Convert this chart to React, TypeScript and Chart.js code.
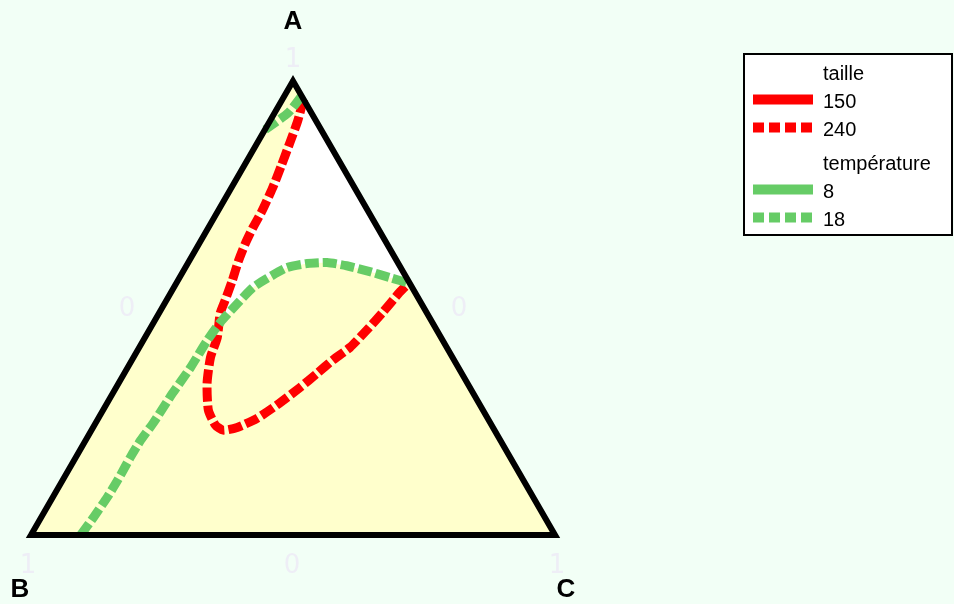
import { useEffect, useRef } from 'react';
import { Chart, registerables } from 'chart.js';

Chart.register(...registerables);

// Compositions are [A, B, C] fractions that sum to 1.
type Comp = [number, number, number];

const VERTEX_NAMES = ['A', 'B', 'C'];
const AXIS_TICKS = ['0', '1'];

const TAILLE_TITLE = 'taille';
const TAILLE_LEVELS = ['150', '240'];
const TEMP_TITLE = 'température';
const TEMP_LEVELS = ['8', '18'];

// taille = 240 contour: from the A–C edge near A, down and around the loop, back to the A–C edge
const TAILLE_240: Comp[] = [
  [0.960, 0.000, 0.040],
  [0.912, 0.035, 0.053],
  [0.864, 0.074, 0.062],
  [0.813, 0.116, 0.071],
  [0.763, 0.158, 0.079],
  [0.714, 0.202, 0.084],
  [0.677, 0.238, 0.085],
  [0.642, 0.270, 0.088],
  [0.604, 0.302, 0.094],
  [0.560, 0.336, 0.104],
  [0.517, 0.371, 0.112],
  [0.488, 0.395, 0.117],
  [0.435, 0.427, 0.138],
  [0.391, 0.462, 0.147],
  [0.334, 0.497, 0.169],
  [0.275, 0.524, 0.201],
  [0.242, 0.527, 0.231],
  [0.231, 0.518, 0.251],
  [0.237, 0.488, 0.275],
  [0.257, 0.440, 0.303],
  [0.286, 0.388, 0.326],
  [0.325, 0.324, 0.351],
  [0.356, 0.276, 0.368],
  [0.385, 0.232, 0.383],
  [0.413, 0.185, 0.402],
  [0.451, 0.134, 0.415],
  [0.490, 0.084, 0.426],
  [0.534, 0.030, 0.436],
  [0.556, 0.000, 0.444],
];

// température = 18 contour: from the B–C edge up to the A–C edge
const TEMP_18_MAIN: Comp[] = [
  [0.000, 0.905, 0.095],
  [0.040, 0.860, 0.100],
  [0.084, 0.812, 0.104],
  [0.121, 0.774, 0.105],
  [0.171, 0.725, 0.104],
  [0.209, 0.686, 0.105],
  [0.248, 0.642, 0.110],
  [0.312, 0.574, 0.114],
  [0.369, 0.511, 0.120],
  [0.429, 0.449, 0.122],
  [0.468, 0.405, 0.127],
  [0.510, 0.351, 0.139],
  [0.545, 0.304, 0.151],
  [0.565, 0.267, 0.168],
  [0.589, 0.217, 0.194],
  [0.598, 0.174, 0.228],
  [0.600, 0.135, 0.265],
  [0.593, 0.101, 0.306],
  [0.582, 0.068, 0.350],
  [0.567, 0.032, 0.401],
  [0.554, 0.000, 0.446],
];

// température = 18 contour: short branch close to vertex A
const TEMP_18_APEX: Comp[] = [
  [0.967, 0.000, 0.033],
  [0.930, 0.044, 0.026],
  [0.892, 0.108, 0.000],
];

const PAGE_BG = '#F2FFF6';
const FIELD_FILL = '#FFFFCC';
const POCKET_FILL = '#FFFFFF';
const RED = '#FF0000';
const GREEN = '#66CC66';
const TICK_COLOR = '#EEEEF6';

const H = Math.sqrt(3) / 2;
const toXY = ([a, , c]: Comp) => ({ x: c + a / 2, y: a * H });

const VERTICES: Comp[] = [
  [1, 0, 0],
  [0, 1, 0],
  [0, 0, 1],
];

// The pocket above the 18 contour and right of the 240 contour stays white.
const POCKET: Comp[] = [...TAILLE_240.slice(0, 12), ...TEMP_18_MAIN.slice(10)];

function toPx(chart: Chart, p: { x: number; y: number }) {
  return {
    x: chart.scales.x.getPixelForValue(p.x),
    y: chart.scales.y.getPixelForValue(p.y),
  };
}

function fillPolygon(chart: Chart, comps: Comp[], color: string) {
  const ctx = chart.ctx;
  ctx.beginPath();
  comps.forEach((c, i) => {
    const p = toPx(chart, toXY(c));
    if (i === 0) ctx.moveTo(p.x, p.y);
    else ctx.lineTo(p.x, p.y);
  });
  ctx.closePath();
  ctx.fillStyle = color;
  ctx.fill();
}

function drawLegend(ctx: CanvasRenderingContext2D) {
  ctx.save();
  ctx.fillStyle = '#FFFFFF';
  ctx.fillRect(744, 54, 208, 181);
  ctx.strokeStyle = '#000000';
  ctx.lineWidth = 2;
  ctx.strokeRect(744, 54, 208, 181);

  const groups = [
    { title: TAILLE_TITLE, levels: TAILLE_LEVELS, color: RED, base: 80 },
    { title: TEMP_TITLE, levels: TEMP_LEVELS, color: GREEN, base: 170 },
  ];
  ctx.font = '20px "Liberation Sans", Arial, sans-serif';
  ctx.textAlign = 'left';
  ctx.textBaseline = 'alphabetic';
  groups.forEach((g) => {
    ctx.fillStyle = '#000000';
    ctx.fillText(g.title, 823, g.base);
    g.levels.forEach((level, i) => {
      const base = g.base + 28 * (i + 1);
      const mid = base - 8.5;
      ctx.strokeStyle = g.color;
      ctx.lineWidth = 10;
      ctx.lineCap = 'butt';
      ctx.setLineDash(i === 0 ? [] : [11, 5]);
      ctx.beginPath();
      ctx.moveTo(753, mid);
      ctx.lineTo(813, mid);
      ctx.stroke();
      ctx.fillStyle = '#000000';
      ctx.fillText(level, 823, base);
    });
  });
  ctx.setLineDash([]);
  ctx.restore();
}

const ternaryDecor = {
  id: 'ternaryDecor',
  beforeDraw(chart: Chart) {
    const ctx = chart.ctx;
    ctx.save();
    ctx.fillStyle = PAGE_BG;
    ctx.fillRect(0, 0, chart.width, chart.height);
    fillPolygon(chart, VERTICES, FIELD_FILL);
    fillPolygon(chart, POCKET, POCKET_FILL);
    ctx.restore();
  },
  afterDraw(chart: Chart) {
    const ctx = chart.ctx;
    const [pA, pB, pC] = VERTICES.map((v) => toPx(chart, toXY(v)));
    ctx.save();
    ctx.textAlign = 'center';
    ctx.textBaseline = 'alphabetic';

    ctx.font = 'bold 26px "Liberation Sans", Arial, sans-serif';
    ctx.fillStyle = '#000000';
    ctx.fillText(VERTEX_NAMES[0], pA.x, pA.y - 52);
    ctx.fillText(VERTEX_NAMES[1], pB.x - 11, pB.y + 62);
    ctx.fillText(VERTEX_NAMES[2], pC.x + 11, pC.y + 62);

    ctx.font = '26px "DejaVu Sans", sans-serif';
    ctx.fillStyle = TICK_COLOR;
    ctx.fillText(AXIS_TICKS[1], pA.x, pA.y - 14);
    ctx.fillText(AXIS_TICKS[1], pB.x - 3, pB.y + 38);
    ctx.fillText(AXIS_TICKS[1], pC.x + 2, pC.y + 38);
    const midBC = { x: (pB.x + pC.x) / 2, y: (pB.y + pC.y) / 2 };
    const midAB = { x: (pA.x + pB.x) / 2, y: (pA.y + pB.y) / 2 };
    const midAC = { x: (pA.x + pC.x) / 2, y: (pA.y + pC.y) / 2 };
    ctx.fillText(AXIS_TICKS[0], midBC.x - 1, midBC.y + 38);
    ctx.fillText(AXIS_TICKS[0], midAB.x - 35, midAB.y + 8);
    ctx.fillText(AXIS_TICKS[0], midAC.x + 35, midAC.y + 8);
    ctx.restore();

    drawLegend(ctx);
  },
};

const contour = (label: string, comps: Comp[], color: string, order: number) => ({
  label,
  data: comps.map(toXY),
  showLine: true,
  borderColor: color,
  backgroundColor: color,
  borderWidth: 9,
  borderDash: [14, 4],
  borderCapStyle: 'butt' as const,
  pointRadius: 0,
  tension: 0.2,
  fill: false,
  clip: false as const,
  order,
});

export default function App() {
  const ref = useRef<HTMLCanvasElement>(null);

  useEffect(() => {
    if (!ref.current) return;
    const chart = new Chart(ref.current, {
      type: 'scatter',
      data: {
        datasets: [
          {
            label: 'triangle',
            data: [...VERTICES, VERTICES[0], VERTICES[1]].map(toXY),
            showLine: true,
            borderColor: '#000000',
            borderWidth: 6,
            borderJoinStyle: 'miter',
            pointRadius: 0,
            tension: 0,
            fill: false,
            clip: false,
            order: 0,
          },
          contour(`${TEMP_TITLE} ${TEMP_LEVELS[1]}`, TEMP_18_MAIN, GREEN, 1),
          contour(`${TEMP_TITLE} ${TEMP_LEVELS[1]}`, TEMP_18_APEX, GREEN, 1),
          contour(`${TAILLE_TITLE} ${TAILLE_LEVELS[1]}`, TAILLE_240, RED, 2),
        ],
      },
      options: {
        responsive: false,
        animation: false,
        events: [],
        layout: { padding: { left: 31, right: 399, top: 81, bottom: 69 } },
        scales: {
          x: { type: 'linear', min: 0, max: 1, display: false },
          y: { type: 'linear', min: 0, max: H, display: false },
        },
        plugins: {
          legend: { display: false },
          tooltip: { enabled: false },
        },
      },
      plugins: [ternaryDecor],
    });
    return () => chart.destroy();
  }, []);

  return (
    <div style={{ position: 'fixed', left: 0, top: 0, width: 954, height: 604, background: PAGE_BG }}>
      <canvas ref={ref} width={954} height={604} style={{ display: 'block' }} />
    </div>
  );
}
